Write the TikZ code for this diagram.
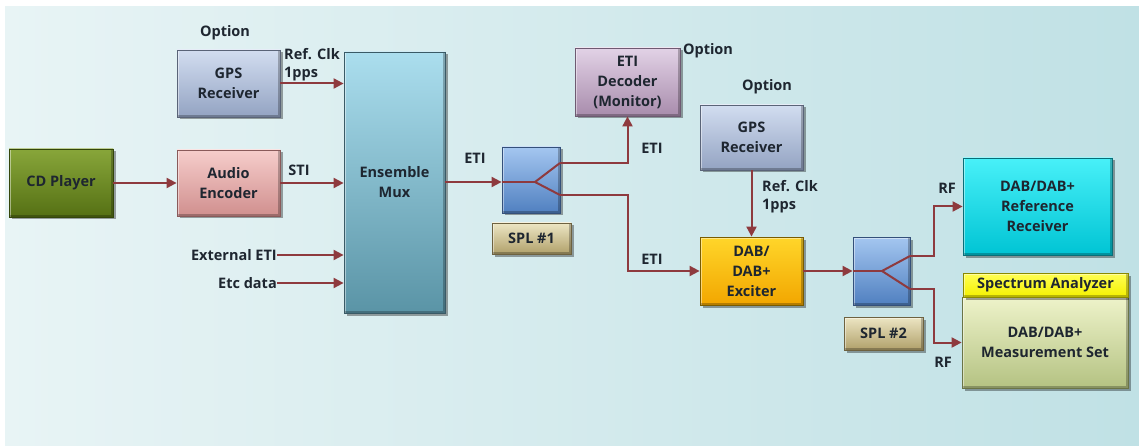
\documentclass[tikz,border=0pt]{standalone}
\usepackage{fontspec}
\setmainfont{Open Sans}
\usetikzlibrary{arrows.meta,shadows}

\definecolor{wirec}{HTML}{8E3A3E}
\definecolor{txtc}{HTML}{1E2630}
\definecolor{bgl}{HTML}{E8F4F5}
\definecolor{bgr}{HTML}{C0E1E5}
% block palettes: top, bottom, border
\definecolor{cdT}{HTML}{88A63A}\definecolor{cdB}{HTML}{557014}\definecolor{cdD}{HTML}{34460A}
\definecolor{gpT}{HTML}{D2DDF0}\definecolor{gpB}{HTML}{93A3C2}\definecolor{gpD}{HTML}{5A6478}
\definecolor{auT}{HTML}{F6CDCB}\definecolor{auB}{HTML}{D08F8E}\definecolor{auD}{HTML}{8A5A5A}
\definecolor{mxT}{HTML}{ABDEEE}\definecolor{mxB}{HTML}{5A94A6}\definecolor{mxD}{HTML}{3A5A66}
\definecolor{edT}{HTML}{E2D2E6}\definecolor{edB}{HTML}{A88CAC}\definecolor{edD}{HTML}{6E5A72}
\definecolor{spT}{HTML}{A4C6F0}\definecolor{spB}{HTML}{5080C0}\definecolor{spD}{HTML}{34507A}
\definecolor{slT}{HTML}{EDE6C4}\definecolor{slB}{HTML}{B0A06A}\definecolor{slD}{HTML}{6E6240}
\definecolor{exT}{HTML}{FFD62A}\definecolor{exB}{HTML}{F2A600}\definecolor{exD}{HTML}{7A5C00}
\definecolor{rrT}{HTML}{48F0F8}\definecolor{rrB}{HTML}{00C4D4}\definecolor{rrD}{HTML}{0A6E78}
\definecolor{saT}{HTML}{FFFF55}\definecolor{saB}{HTML}{F4F000}\definecolor{saD}{HTML}{8A8800}
\definecolor{msT}{HTML}{EEF3CA}\definecolor{msB}{HTML}{B4C282}\definecolor{msD}{HTML}{6A7446}

\tikzset{
  blk/.style={
    rectangle, inner sep=0pt, align=center,
    top color=#1T, bottom color=#1B, draw=#1D, line width=0.8pt,
    font=\bfseries\fontsize{14.5}{20}\selectfont, text=txtc,
    drop shadow={shadow xshift=2.5pt, shadow yshift=-2.5pt, opacity=0.35, fill=black},
    path picture={
      \draw[white, opacity=0.45, line width=3pt]
        (path picture bounding box.south west) |- (path picture bounding box.north east);
      \draw[black, opacity=0.25, line width=4pt]
        (path picture bounding box.north east) |- (path picture bounding box.south west);
    }
  },
  lbl/.style={inner sep=0pt, font=\bfseries\fontsize{14.5}{18}\selectfont, text=txtc},
  wire/.style={draw=wirec, line width=2pt},
  arr/.style={wire, -{Triangle[length=10pt,width=10pt]}},
}

\begin{document}
\begin{tikzpicture}[x=1pt, y=-1pt]
\useasboundingbox (0,0) rectangle (1139,446);
% backdrop
\fill[white] (0,0) rectangle (1139,446);
\shade[left color=bgl, right color=bgr] (5,7) rectangle (1139,446);

% blocks
\node[blk=cd, minimum width=104pt, minimum height=68pt] (cd) at (61,183) {CD Player};
\node[blk=gp, minimum width=103pt, minimum height=67pt] (gps1) at (228.5,83.5) {GPS\\Receiver};
\node[blk=au, minimum width=103pt, minimum height=66pt] (audio) at (228.5,183) {Audio\\Encoder};
\node[blk=mx, minimum width=101pt, minimum height=261pt] (mux) at (394.5,182.5) {Ensemble\\Mux};
\node[blk=ed, minimum width=105pt, minimum height=68pt] (etidec) at (627.5,82) {ETI\\Decoder\\(Monitor)};
\node[blk=sp, minimum width=58pt, minimum height=66pt] (spl1) at (531,180) {};
\node[blk=sl, minimum width=79pt, minimum height=31pt] (spl1lab) at (531.5,238.5) {SPL \#1};
\node[blk=gp, minimum width=103pt, minimum height=65pt] (gps2) at (751.5,137.5) {GPS\\Receiver};
\node[blk=ex, minimum width=103pt, minimum height=68pt] (exc) at (751.5,271) {DAB/\\DAB+\\Exciter};
\node[blk=sp, minimum width=57pt, minimum height=68pt] (spl2) at (881.5,271) {};
\node[blk=sl, minimum width=79pt, minimum height=33pt] (spl2lab) at (883.5,333.5) {SPL \#2};
\node[blk=rr, minimum width=149pt, minimum height=97pt] (refrx) at (1037.5,206.5) {DAB/DAB+\\Reference\\Receiver};
\node[blk=ms, minimum width=166pt, minimum height=91pt, text depth=-6pt] (meas) at (1045,342.5) {DAB/DAB+\\Measurement Set};
\node[blk=sa, minimum width=165pt, minimum height=24pt] (spec) at (1045.5,285) {Spectrum Analyzer};

% free labels
\node[lbl] (opt1) at (225,33) {Option};
\node[lbl] (opt2) at (708,51) {Option};
\node[lbl] (opt3) at (767,87) {Option};
\node[lbl, align=left, anchor=west] (clk1) at (284,65) {Ref. Clk\\1pps};
\node[lbl, align=left, anchor=west] (clk2) at (762,197) {Ref. Clk\\1pps};
\node[lbl] (sti) at (299,170) {STI};
\node[lbl, anchor=east] (ext) at (277,255) {External ETI};
\node[lbl, anchor=east] (etc) at (277,283) {Etc data};
\node[lbl] (eti1) at (475,158) {ETI};
\node[lbl] (eti2) at (652,148) {ETI};
\node[lbl] (eti3) at (652,259) {ETI};
\node[lbl] (rf1) at (947,188) {RF};
\node[lbl] (rf2) at (943,362) {RF};

% splitter junctions
\coordinate (s1c) at (535,182);
\coordinate (s1u) at (560,163);
\coordinate (s1d) at (560,195);
\coordinate (s2c) at (882,271);
\coordinate (s2u) at (910,256);
\coordinate (s2d) at (910,289);

% connectors
\draw[arr] (cd.east) -- (cd.east -| audio.west);
\draw[arr] (gps1.east) -- (gps1.east -| mux.west);
\draw[arr] (audio.east) -- (audio.east -| mux.west);
\draw[arr] (ext.east) -- (ext.east -| mux.west);
\draw[arr] (etc.east) -- (etc.east -| mux.west);
\draw[arr] (mux.east |- s1c) -- (s1c -| spl1.west);
\draw[wire] (s1c -| spl1.west) -- (s1c);
\draw[wire, line join=round] (s1u) -- (s1c) -- (s1d);
\draw[arr] (s1u) -| (etidec.south);
\draw[arr] (s1d) -- ++(68,0) |- (exc.west);
\draw[arr] (gps2.south) -- (exc.north);
\draw[arr] (exc.east) -- (exc.east -| spl2.west);
\draw[wire] (s2c -| spl2.west) -- (s2c);
\draw[wire, line join=round] (s2u) -- (s2c) -- (s2d);
\draw[arr] (s2u) -- ++(24,0) |- (refrx.west);
\draw[arr] (s2d) -- ++(24,0) |- (meas.west);
\end{tikzpicture}
\end{document}
